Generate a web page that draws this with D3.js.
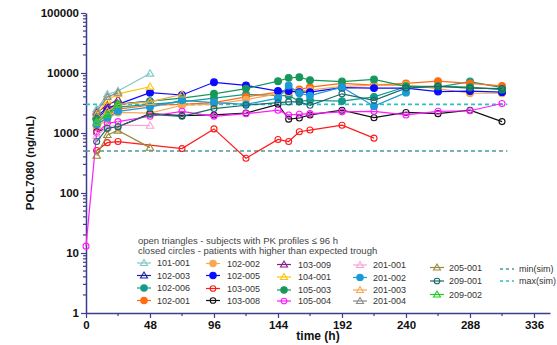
<!DOCTYPE html>
<html>
<head>
<meta charset="utf-8">
<script src="https://cdn.jsdelivr.net/npm/d3@7"></script>
<style>
  body { margin: 0; background: #fff; }
  svg { font-family: Arial, "Liberation Sans", sans-serif; }
</style>
</head>
<body>
<div id="chart"></div>
<script>
// concentration data [time (h), POL7080 ng/mL]
const d101_001 = [[8, 2500], [16, 4400], [24, 5000], [48, 9800]];
const d102_003 = [[8, 1900], [16, 2600], [24, 3000], [48, 3400]];
const d102_006 = [[8, 1600], [16, 2000], [24, 2700], [48, 3000], [72, 3300], [96, 3800], [120, 4400], [144, 4200], [152, 4200], [160, 3400], [168, 3500], [192, 3400], [216, 4000], [240, 5900], [264, 5800], [288, 7200], [312, 5700]];
const d102_001 = [[8, 1300], [16, 1900], [24, 2500], [48, 2900], [72, 3000], [96, 3200], [120, 4000], [144, 4800], [152, 5200], [160, 5300], [168, 5800], [192, 6700], [216, 6300], [240, 6700], [264, 7300], [288, 6700], [312, 6100]];
const d102_002 = [[8, 1250], [16, 1700], [24, 2200], [48, 2150], [72, 2900], [96, 3000], [120, 3600], [144, 4500], [152, 4800], [160, 5000], [168, 5200], [192, 6000], [216, 6200], [240, 6300], [264, 5500], [288, 4600], [312, 4600]];
const d102_005 = [[8, 1800], [16, 2400], [24, 3000], [48, 4700], [72, 4300], [96, 7000], [120, 6200], [144, 5000], [152, 5000], [160, 4800], [168, 4800], [192, 5700], [216, 5600], [240, 5600], [264, 4900], [288, 5000], [312, 4800]];
const d103_005 = [[8, 510], [16, 690], [24, 720], [72, 550], [96, 1170], [120, 380], [144, 780], [152, 720], [160, 1050], [168, 1120], [192, 1350], [216, 820]];
const d103_008 = [[8, 1050], [16, 1200], [24, 1270], [48, 2100], [72, 1950], [96, 2000], [120, 2150], [144, 3000], [152, 1700], [160, 1780], [168, 2000], [192, 2400], [216, 1800], [240, 2200], [264, 2100], [288, 2400], [312, 1550]];
const d103_009 = [[8, 2200], [16, 2900], [24, 3600]];
const d104_001 = [[8, 2000], [16, 3500], [24, 4500], [48, 5900]];
const d105_003 = [[8, 1700], [16, 2100], [24, 3000], [48, 3400], [72, 3800], [96, 4500], [120, 5500], [144, 7300], [152, 8300], [160, 8500], [168, 7600], [192, 7200], [216, 7800], [240, 6000], [264, 6000], [288, 5800], [312, 5300]];
const d105_004 = [[0, 13], [8, 1000], [16, 1450], [24, 1550], [48, 1900], [72, 2300], [96, 1900], [120, 2100], [144, 2400], [152, 2000], [160, 2050], [168, 2100], [192, 2250], [216, 2300], [240, 2000], [264, 2300], [288, 2350], [312, 3100]];
const d201_001 = [[8, 900], [16, 1250], [24, 1350], [48, 1330]];
const d201_002 = [[8, 1400], [16, 1800], [24, 2300], [48, 2700], [72, 3500], [96, 3200], [120, 3000], [144, 3800], [152, 6200], [160, 4600], [168, 4200], [192, 5800], [216, 2800], [240, 4700]];
const d201_003 = [[8, 1500], [16, 2300], [24, 3000], [48, 3300], [72, 4400]];
const d201_004 = [[8, 2300], [16, 4000], [24, 4700]];
const d205_001 = [[8, 420], [16, 930], [24, 1100], [48, 570]];
const d209_001 = [[8, 720], [16, 1200], [24, 1270], [48, 2050], [72, 1900], [96, 2550], [120, 2900], [144, 3200], [152, 3300], [160, 3300], [168, 2900], [192, 4500], [216, 3500], [240, 5600], [264, 6000], [288, 5600], [312, 5500]];
const d209_002 = [[8, 1500], [16, 2000], [24, 3000]];

const subjectIds = ["101-001", "102-003", "102-006", "102-001", "102-002", "102-005", "103-005", "103-008", "103-009", "104-001", "105-003", "105-004", "201-001", "201-002", "201-003", "201-004", "205-001", "209-001", "209-002"];
const subjectData = [d101_001, d102_003, d102_006, d102_001, d102_002, d102_005, d103_005, d103_008, d103_009, d104_001, d105_003, d105_004, d201_001, d201_002, d201_003, d201_004, d205_001, d209_001, d209_002];
const subjectColors = ["#7ec8c8", "#1c1ca8", "#16998a", "#ff6a13", "#f9a852", "#0a0aff", "#ff1a1a", "#111111", "#8a1a8a", "#ffc20e", "#17985a", "#ff1aff", "#f6a6dc", "#1c9ad6", "#f9a852", "#8c8c8c", "#9a8a3c", "#1c6a6a", "#22cc22"];
const subjectShapes = ["tri", "tri", "dot", "dot", "dot", "dot", "ring", "ring", "tri", "tri", "dot", "ring", "tri", "dot", "tri", "tri", "tri", "ring", "tri"];

const simNames = ["min(sim)", "max(sim)"];
const simValues = [500, 3000];
const simColors = ["#4a9a98", "#2ec0c4"];
const simRange = [0, 316];

const xTicks = [0, 48, 96, 144, 192, 240, 288, 336];
const yTicks = [1, 10, 100, 1000, 10000, 100000];

const legendTitles = ["open triangles - subjects with PK profiles \u2264 96 h", "closed circles - patients with higher than expected trough"];

const W = 557, H = 345;
const svg = d3.select("#chart").append("svg").attr("width", W).attr("height", H);

const x = d3.scaleLinear().domain([0, 348]).range([86, 550]);
const y = d3.scaleLog().domain([1, 100000]).range([313, 13]);
const axisColor = "#3d3d8c";

// x axis
const minorX = d3.range(24, 348, 48);
const gx = svg.append("g").attr("transform", `translate(0,${y(1)})`);
gx.call(d3.axisBottom(x).tickValues(xTicks).tickSize(5).tickPadding(3).tickSizeOuter(0));
gx.selectAll(".minor").data(minorX).join("line").attr("class", "minor")
  .attr("x1", d => x(d)).attr("x2", d => x(d)).attr("y1", 0).attr("y2", 3);

// y axis
const minorY = [];
for (let e = 0; e < 5; e++) for (let k = 2; k <= 9; k++) minorY.push(k * Math.pow(10, e));
const gy = svg.append("g").attr("transform", `translate(${x(0)},0)`);
gy.call(d3.axisLeft(y).tickValues(yTicks).tickFormat(d3.format("d")).tickSize(5).tickPadding(2).tickSizeOuter(0));
gy.selectAll(".minor").data(minorY).join("line").attr("class", "minor")
  .attr("x1", 0).attr("x2", -3).attr("y1", d => y(d)).attr("y2", d => y(d));

svg.selectAll(".domain").attr("stroke", axisColor).attr("stroke-width", 1.5);
svg.selectAll(".tick line, .minor").attr("stroke", axisColor).attr("stroke-width", 1.2);
svg.selectAll(".tick text").attr("fill", "#111").attr("font-size", 11.5).attr("font-weight", "bold")
  .attr("font-family", "Arial, 'Liberation Sans', sans-serif");

svg.append("text").attr("transform", `translate(34,163) rotate(-90)`)
  .attr("text-anchor", "middle").attr("font-size", 11.5).attr("font-weight", "bold").attr("fill", "#111")
  .text("POL7080 (ng/mL)");
svg.append("text").attr("x", 318).attr("y", 340)
  .attr("text-anchor", "middle").attr("font-size", 12).attr("font-weight", "bold").attr("fill", "#111")
  .text("time (h)");

// simulation bounds
simValues.forEach((v, i) => {
  svg.append("line").attr("x1", x(simRange[0])).attr("x2", x(simRange[1]))
    .attr("y1", y(v)).attr("y2", y(v))
    .attr("stroke", simColors[i]).attr("stroke-width", 1.6).attr("stroke-dasharray", "4,3");
});

function drawMarker(g, shape, color, cx, cy, r) {
  if (shape === "tri") {
    const h = r * 1.1;
    g.append("path")
      .attr("d", `M${cx},${cy - h}L${cx + h},${cy + h * 0.7}L${cx - h},${cy + h * 0.7}Z`)
      .attr("fill", "none").attr("stroke", color).attr("stroke-width", 1.1);
  } else {
    g.append("circle").attr("cx", cx).attr("cy", cy).attr("r", shape === "dot" ? r : r - 0.4)
      .attr("fill", shape === "dot" ? color : "none")
      .attr("stroke", color).attr("stroke-width", 1.1);
  }
}

const line = d3.line().x(d => x(d[0])).y(d => y(d[1]));
const plot = svg.append("g");
subjectIds.forEach((id, i) => {
  const g = plot.append("g");
  g.append("path").datum(subjectData[i]).attr("d", line)
    .attr("fill", "none").attr("stroke", subjectColors[i]).attr("stroke-width", 1.2);
  subjectData[i].forEach(p => drawMarker(g, subjectShapes[i], subjectColors[i], x(p[0]), y(p[1]), 3.4));
});

// legend
const lg = svg.append("g").attr("font-size", 9).attr("fill", "#333");
lg.selectAll(".ttl").data(legendTitles).join("text").attr("class", "ttl")
  .attr("x", 138).attr("y", (d, i) => 244 + i * 10).attr("font-size", 9.5).attr("fill", "#444").text(d => d);

const cols = [
  { mx: 144, tx: 157, ys: [263, 275.5, 288, 300.5] },
  { mx: 213, tx: 227, ys: [263.5, 275.5, 288.5, 300.5] },
  { mx: 284, tx: 298, ys: [264.5, 277, 290, 301] },
  { mx: 360, tx: 373, ys: [265, 277.5, 290, 301] },
  { mx: 437, tx: 449, ys: [267.5, 281, 294.5] }
];
let k = 0;
cols.forEach(c => {
  c.ys.forEach(yy => {
    const i = k++;
    const g = lg.append("g");
    g.append("line").attr("x1", c.mx - 7).attr("x2", c.mx + 7).attr("y1", yy).attr("y2", yy)
      .attr("stroke", subjectColors[i]).attr("stroke-width", 1.2);
    drawMarker(g, subjectShapes[i], subjectColors[i], c.mx, yy, 3.2);
    g.append("text").attr("x", c.tx).attr("y", yy).attr("dy", "0.35em").text(subjectIds[i]);
  });
});
simNames.forEach((n, i) => {
  const yy = 269 + i * 12;
  lg.append("line").attr("x1", 500).attr("x2", 514).attr("y1", yy).attr("y2", yy)
    .attr("stroke", simColors[i]).attr("stroke-width", 1.6).attr("stroke-dasharray", "3,3");
  lg.append("text").attr("x", 519).attr("y", yy).attr("dy", "0.35em").text(n);
});
</script>
</body>
</html>
